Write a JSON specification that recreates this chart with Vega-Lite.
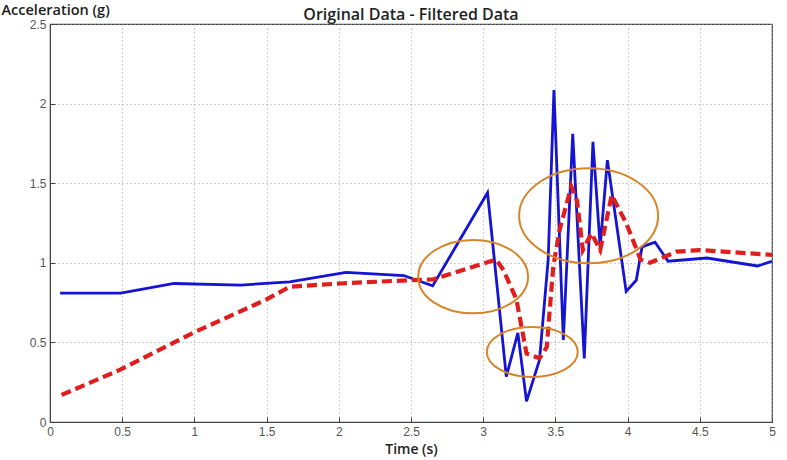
{
  "$schema": "https://vega.github.io/schema/vega-lite/v6.json",
  "width": 722,
  "height": 398,
  "autosize": {"type": "none"},
  "padding": {"left": 50, "top": 24, "right": 15, "bottom": 38},
  "background": "white",
  "title": {"text": "Original Data - Filtered Data", "font": "Open Sans", "fontSize": 16, "fontWeight": 600, "color": "#222", "offset": 0, "dy": 21, "anchor": "middle"},
  "config": {
    "view": {"stroke": "#444", "strokeWidth": 1.2},
    "axis": {"labelFont": "Liberation Sans", "labelFontSize": 12, "labelColor": "#555", "domainColor": "#444", "tickColor": "#444", "gridColor": "#9a9a9a", "gridDash": [1, 3], "gridWidth": 1, "tickSize": -5, "labelPadding": 9}
  },
  "datasets": {
    "original": [
      {"t": 0.07, "g": 0.81}, {"t": 0.49, "g": 0.81}, {"t": 0.86, "g": 0.87}, {"t": 1.32, "g": 0.86},
      {"t": 1.66, "g": 0.88}, {"t": 2.05, "g": 0.94}, {"t": 2.45, "g": 0.92}, {"t": 2.65, "g": 0.855},
      {"t": 3.03, "g": 1.44}, {"t": 3.16, "g": 0.285}, {"t": 3.24, "g": 0.56}, {"t": 3.30, "g": 0.13},
      {"t": 3.39, "g": 0.39}, {"t": 3.45, "g": 1.02}, {"t": 3.49, "g": 2.085}, {"t": 3.555, "g": 0.515},
      {"t": 3.62, "g": 1.81}, {"t": 3.70, "g": 0.40}, {"t": 3.76, "g": 1.76}, {"t": 3.81, "g": 1.10},
      {"t": 3.86, "g": 1.645}, {"t": 3.99, "g": 0.82}, {"t": 4.06, "g": 0.89}, {"t": 4.10, "g": 1.10},
      {"t": 4.19, "g": 1.13}, {"t": 4.28, "g": 1.01}, {"t": 4.55, "g": 1.03}, {"t": 4.9, "g": 0.98},
      {"t": 5.0, "g": 1.01}
    ],
    "filtered": [
      {"t": 0.08, "g": 0.17}, {"t": 0.49, "g": 0.33}, {"t": 0.99, "g": 0.56}, {"t": 1.5, "g": 0.77},
      {"t": 1.66, "g": 0.85}, {"t": 2.01, "g": 0.87}, {"t": 2.47, "g": 0.89}, {"t": 2.65, "g": 0.895},
      {"t": 3.09, "g": 1.02}, {"t": 3.14, "g": 0.955}, {"t": 3.23, "g": 0.77}, {"t": 3.30, "g": 0.43},
      {"t": 3.39, "g": 0.40}, {"t": 3.44, "g": 0.47}, {"t": 3.485, "g": 0.975}, {"t": 3.53, "g": 1.21},
      {"t": 3.61, "g": 1.48}, {"t": 3.65, "g": 1.39}, {"t": 3.69, "g": 1.08}, {"t": 3.75, "g": 1.185},
      {"t": 3.81, "g": 1.08}, {"t": 3.89, "g": 1.425}, {"t": 3.99, "g": 1.25}, {"t": 4.09, "g": 1.02},
      {"t": 4.155, "g": 1.0}, {"t": 4.34, "g": 1.07}, {"t": 4.5, "g": 1.08}, {"t": 5.0, "g": 1.05}
    ],
    "ell1": [{"t": 2.93, "g": 0.913}],
    "ell2": [{"t": 3.34, "g": 0.44}],
    "ell3": [{"t": 3.73, "g": 1.295}]
  },
  "encoding": {
    "x": {"field": "t", "type": "quantitative", "scale": {"domain": [0, 5], "nice": false, "zero": false},
      "axis": {"title": "Time (s)", "titleFont": "Open Sans", "titleFontSize": 14, "titleFontWeight": 600, "titleColor": "#222", "titlePadding": 5, "values": [0, 0.5, 1, 1.5, 2, 2.5, 3, 3.5, 4, 4.5, 5], "format": "~g", "grid": true, "labelFlush": false}},
    "y": {"field": "g", "type": "quantitative", "scale": {"domain": [0, 2.5], "nice": false},
      "axis": {"title": "Acceleration (g)", "titleFont": "Open Sans", "titleFontSize": 14.5, "titleFontWeight": 600, "titleColor": "#222", "titleAngle": 0, "titleAlign": "left", "titleBaseline": "alphabetic", "titleX": -49, "titleY": -10, "values": [0, 0.5, 1, 1.5, 2, 2.5], "format": "~g", "grid": true, "labelFlush": false}}
  },
  "layer": [
    {"data": {"name": "original"}, "mark": {"type": "line", "color": "#1414d2", "strokeWidth": 2.8, "clip": true}},
    {"data": {"name": "filtered"}, "mark": {"type": "line", "color": "#e01e1e", "strokeWidth": 4.2, "strokeDash": [10, 5], "clip": true}},
    {"data": {"name": "ell1"}, "mark": {"type": "point", "shape": "M -1 0 A 1 0.667 0 1 1 1 0 A 1 0.667 0 1 1 -1 0 Z", "size": 12100, "filled": false, "stroke": "#d4862a", "strokeWidth": 2, "opacity": 1}},
    {"data": {"name": "ell2"}, "mark": {"type": "point", "shape": "M -1 0 A 1 0.55 0 1 1 1 0 A 1 0.55 0 1 1 -1 0 Z", "size": 8281, "filled": false, "stroke": "#d4862a", "strokeWidth": 2, "opacity": 1}},
    {"data": {"name": "ell3"}, "mark": {"type": "point", "shape": "M -1 0 A 1 0.683 0 1 1 1 0 A 1 0.683 0 1 1 -1 0 Z", "size": 19321, "filled": false, "stroke": "#d4862a", "strokeWidth": 2, "opacity": 1}}
  ]
}
